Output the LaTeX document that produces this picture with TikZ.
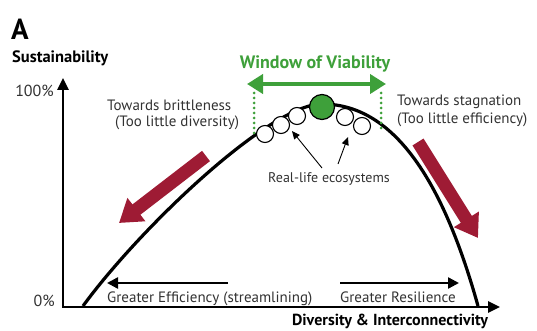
\documentclass[tikz,border=0pt]{standalone}
\usepackage{fontspec}
\setmainfont{PT Sans}
\usetikzlibrary{arrows.meta}
\definecolor{vgreen}{RGB}{62,160,58}
\definecolor{vred}{RGB}{158,27,52}
\definecolor{txt}{RGB}{50,50,50}
\begin{document}
\begin{tikzpicture}[x=1pt,y=-1pt,
  lbl/.style={font=\fontsize{15}{16}\selectfont, inner sep=0pt, text=txt},
  bold/.style={font=\bfseries\fontsize{16.5}{17}\selectfont, inner sep=0pt},
  axis/.style={line width=2.6pt, {Triangle[length=12pt,width=11pt]}-{Triangle[length=12pt,width=11pt]}},
  curve/.style={line width=3.2pt},
  wcirc/.style={circle, draw=black, line width=1.1pt, fill=white, minimum size=17pt, inner sep=0pt},
  gcirc/.style={circle, draw=black, line width=1.2pt, fill=vgreen, minimum size=25pt, inner sep=0pt},
  gdot/.style={vgreen, line width=3pt, line cap=round, dash pattern=on 0pt off 5pt},
  garrow/.style={vgreen, line width=4pt, {Triangle[length=16pt,width=19pt]}-{Triangle[length=16pt,width=19pt]}},
  redarrow/.style={vred, line width=13pt, -{Triangle[length=22pt,width=28pt]}},
  blackarrow/.style={line width=2.4pt, -{Triangle[length=11pt,width=11pt]}},
  ptr/.style={line width=0.9pt, -{Triangle[length=8pt,width=7pt]}}]
\useasboundingbox (0,0) rectangle (537,331);

% title and axis labels
\node[font=\bfseries\fontsize{29}{29}\selectfont, inner sep=0pt, anchor=base west] (A) at (11,40) {A};
\node[bold, anchor=base west] (sus) at (12,63) {Sustainability};
\node[lbl, font=\fontsize{16}{17}\selectfont, anchor=base east] (p100) at (54,97) {100\%};
\node[lbl, font=\fontsize{16}{17}\selectfont, anchor=base east] (p0) at (55,306) {0\%};
\node[bold, font=\bfseries\fontsize{16}{17}\selectfont, anchor=base] (div) at (390,325) {Diversity \& Interconnectivity};

% axes
\coordinate (ytop) at (63,78);
\coordinate (O) at (63,307);
\coordinate (xend) at (500,307);
\draw[axis, line join=miter] (ytop) -- (O) -- (xend);

% curve
\draw[curve] (83,306) .. controls (140,228) and (270,104) .. (322,104)
  .. controls (400,104) and (447,195) .. (478,306);

% window of viability
\coordinate (wl) at (247,84);
\coordinate (wr) at (386,84);
\draw[garrow] (wl) -- (wr);
\coordinate (dl1) at (254,93);
\coordinate (dl2) at (254,135);
\coordinate (dr1) at (381,93);
\coordinate (dr2) at (381,130);
\draw[gdot] (dl1) -- (dl2);
\draw[gdot] (dr1) -- (dr2);
\node[font=\bfseries\fontsize{18}{19}\selectfont, text=vgreen, inner sep=0pt, anchor=base] (win) at (315,69) {Window of Viability};

% circles
\node[wcirc] (c1) at (265,134) {};
\node[wcirc] (c2) at (281,125) {};
\node[wcirc] (c3) at (297,116) {};
\node[gcirc] (g) at (322,107) {};
\node[wcirc] (c4) at (345,117) {};
\node[wcirc] (c5) at (362,126) {};

% side labels
\node[lbl, anchor=base west] (tb) at (107,111) {Towards brittleness};
\node[lbl, anchor=base west] (tbd) at (115,127) {(Too little diversity)};
\node[lbl, anchor=base west] (ts) at (397,106) {Towards stagnation};
\node[lbl, anchor=base west] (tse) at (397,124) {(Too little efficiency)};

% real-life ecosystems
\node[lbl, font=\fontsize{14}{15}\selectfont, anchor=base] (rl) at (329,182) {Real-life ecosystems};
\coordinate (p1s) at (322,168);
\coordinate (p1e) at (292,131);
\coordinate (p2s) at (338,164);
\coordinate (p2e) at (348,137);
\draw[ptr] (p1s) -- (p1e);
\draw[ptr] (p2s) -- (p2e);

% red arrows
\coordinate (r1s) at (206,156);
\coordinate (r1e) at (119,223);
\coordinate (r2s) at (418,142);
\coordinate (r2e) at (478,238);
\draw[redarrow] (r1s) -- (r1e);
\draw[redarrow] (r2s) -- (r2e);

% bottom arrows
\coordinate (b1s) at (228,283);
\coordinate (b1e) at (107,283);
\coordinate (b2s) at (340,283);
\coordinate (b2e) at (459,283);
\draw[blackarrow] (b1s) -- (b1e);
\draw[blackarrow] (b2s) -- (b2e);
\node[lbl, anchor=base west] (ge) at (107,302) {Greater Efficiency (streamlining)};
\node[lbl, anchor=base west] (gr) at (340,302) {Greater Resilience};
\end{tikzpicture}
\end{document}
